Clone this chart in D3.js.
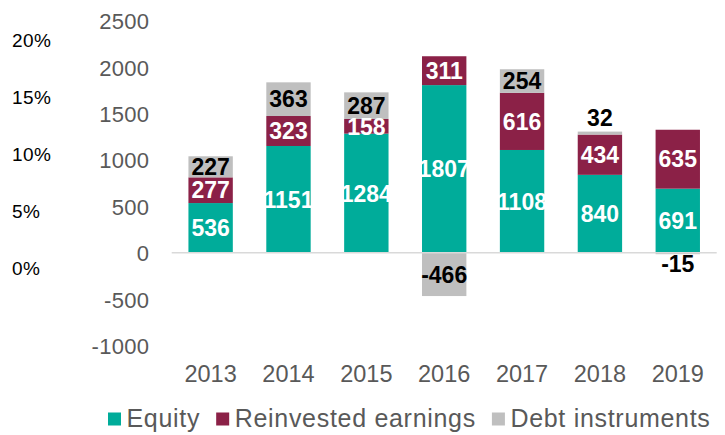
<!DOCTYPE html>
<html>
<head>
<meta charset="utf-8">
<script src="https://cdn.jsdelivr.net/npm/d3@7"></script>
<style>
  html, body { margin: 0; padding: 0; background: #fff; }
  svg { display: block; font-family: "Liberation Sans", Arial, sans-serif; }
</style>
</head>
<body>
<svg id="chart" width="725" height="435"></svg>
<script>
// FDI flows by component
const years = ["2013", "2014", "2015", "2016", "2017", "2018", "2019"];
const equity = [536, 1151, 1284, 1807, 1108, 840, 691];
const reinvested = [277, 323, 158, 311, 616, 434, 635];
const debt = [227, 363, 287, -466, 254, 32, -15];

const seriesNames = ["Equity", "Reinvested earnings", "Debt instruments"];
const seriesKeys = ["equity", "reinvested", "debt"];
const colors = ["#00AC9A", "#8B2147", "#BFBFBF"];
const labelColors = ["#ffffff", "#ffffff", "#000000"];

const valueTicks = [-1000, -500, 0, 500, 1000, 1500, 2000, 2500];
const pctTicks = ["0%", "5%", "10%", "15%", "20%"];

const rows = years.map((yr, i) => ({
  year: yr, equity: equity[i], reinvested: reinvested[i], debt: debt[i]
}));

const svg = d3.select("#chart");

const x = d3.scaleBand().domain(years).range([171.7, 716.7])
  .paddingInner(0.43).paddingOuter(0.215);
const y = d3.scaleLinear().domain([-1000, 2500]).range([345.6, 20.8]);

// secondary percentage scale (labels only)
const yPct = d3.scalePoint().domain(pctTicks).range([268.3, 40]);
svg.append("g").selectAll("text").data(pctTicks).join("text")
  .attr("x", 12).attr("y", d => yPct(d)).attr("dy", "0.35em")
  .attr("font-size", 19).attr("fill", "#000").attr("letter-spacing", 0.4).text(d => d);

// value axis
const yAxis = svg.append("g").attr("transform", "translate(149.3,0)")
  .call(d3.axisLeft(y).tickValues(valueTicks).tickSize(0).tickPadding(0).tickFormat(d => String(d)));
yAxis.select(".domain").remove();
yAxis.selectAll("text").attr("font-size", 22).attr("fill", "#595959")
  .attr("font-family", "Liberation Sans, Arial, sans-serif").attr("dy", "0.36em")
  .attr("letter-spacing", 0.3);

// stacked bars
const stack = d3.stack().keys(seriesKeys).offset(d3.stackOffsetDiverging);
const layers = stack(rows);

const gBars = svg.append("g");
layers.forEach((layer, li) => {
  gBars.append("g").attr("fill", colors[li]).selectAll("rect").data(layer).join("rect")
    .attr("x", d => x(d.data.year))
    .attr("width", x.bandwidth())
    .attr("y", d => y(Math.max(d[0], d[1])))
    .attr("height", d => Math.abs(y(d[0]) - y(d[1])));
});

// zero line
svg.append("line")
  .attr("x1", 171.7).attr("x2", 716.7)
  .attr("y1", y(0)).attr("y2", y(0))
  .attr("stroke", "#D9D9D9").attr("stroke-width", 1.5);

// value labels
const gLabels = svg.append("g").attr("font-weight", "bold").attr("font-size", 23)
  .attr("text-anchor", "middle");
layers.forEach((layer, li) => {
  layer.forEach(d => {
    const v = d.data[seriesKeys[li]];
    const top = y(Math.max(d[0], d[1]));
    const bot = y(Math.min(d[0], d[1]));
    const h = bot - top;
    let ty, dy;
    if (h < 10) {
      if (v >= 0) { ty = top - 6; dy = "0em"; }
      else { ty = bot + 1; dy = "0.72em"; }
    } else {
      ty = (top + bot) / 2; dy = "0.36em";
    }
    gLabels.append("text")
      .attr("x", x(d.data.year) + x.bandwidth() / 2)
      .attr("y", ty).attr("dy", dy)
      .attr("fill", labelColors[li])
      .text(v);
  });
});

// category axis labels
svg.append("g").selectAll("text").data(years).join("text")
  .attr("x", d => x(d) + x.bandwidth() / 2).attr("y", 382.3)
  .attr("text-anchor", "middle").attr("font-size", 23.5).attr("fill", "#595959")
  .text(d => d);

// legend
const legend = svg.append("g");
let lx = 108;
seriesNames.forEach((name, i) => {
  legend.append("rect").attr("x", lx).attr("y", 412.5).attr("width", 13).attr("height", 13)
    .attr("fill", colors[i]);
  const t = legend.append("text").attr("x", lx + 18.5).attr("y", 426.7)
    .attr("font-size", 25).attr("letter-spacing", 0.7).attr("fill", "#595959").text(name);
  lx += 18.5 + t.node().getComputedTextLength() + 16;
});
</script>
</body>
</html>
